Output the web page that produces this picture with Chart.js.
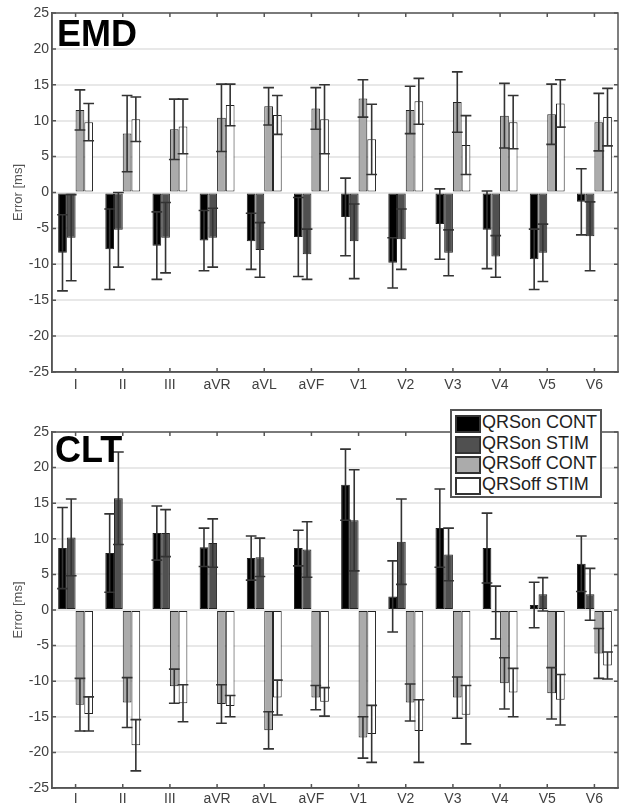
<!DOCTYPE html>
<html>
<head>
<meta charset="utf-8">
<script src="https://cdn.jsdelivr.net/npm/chart.js@4.4.1/dist/chart.umd.min.js"></script>
<style>
  body { margin: 0; background: #fff; }
  #wrap { position: relative; width: 620px; height: 808px; font-family: "Liberation Sans", Arial, sans-serif; }
  canvas { position: absolute; left: 0; }
  .tag { position: absolute; font-weight: bold; font-size: 36px; line-height: 36px; color: #000; }
  #legend { position: absolute; left: 450px; top: 409px; width: 148px; height: 83px;
            border: 2px solid #555; background: #fff; padding-top: 2px; }
  .row { height: 20.7px; position: relative; }
  .sw { position: absolute; left: 3px; top: 2px; width: 22px; height: 14px; border: 2px solid #333; }
  .lt { position: absolute; left: 30px; top: -1px; font-size: 18px; line-height: 20px; color: #222; white-space: nowrap; }
</style>
</head>
<body>
<div id="wrap">
  <canvas id="emdChart" width="620" height="400" style="top:0"></canvas>
  <canvas id="cltChart" width="620" height="408" style="top:400px"></canvas>
  <div class="tag" style="left:57px; top:16px">EMD</div>
  <div class="tag" style="left:55px; top:432px">CLT</div>
  <div id="legend"></div>
</div>
<script>
// ECG leads
const leads = ["I", "II", "III", "aVR", "aVL", "aVF", "V1", "V2", "V3", "V4", "V5", "V6"];
const seriesNames = ["QRSon CONT", "QRSon STIM", "QRSoff CONT", "QRSoff STIM"];
const yTicks = [-25, -20, -15, -10, -5, 0, 5, 10, 15, 20, 25];

// EMD panel: mean error and SD [ms]
const emdOnCont     = [-8.4, -7.9, -7.4, -6.7, -6.8, -6.2, -3.4, -9.8, -4.4, -5.2, -9.3, -1.3];
const emdOnContSd   = [5.3, 5.6, 4.7, 4.2, 3.9, 5.5, 5.4, 3.5, 4.9, 5.4, 4.2, 4.6];
const emdOnStim     = [-6.3, -5.2, -6.3, -6.3, -8.0, -8.6, -6.8, -6.5, -8.4, -8.9, -8.4, -6.1];
const emdOnStimSd   = [6.0, 5.2, 4.9, 4.1, 3.8, 3.5, 5.2, 4.2, 3.2, 2.9, 4.0, 4.8];
const emdOffCont    = [11.5, 8.2, 8.8, 10.4, 12.0, 11.7, 13.1, 11.5, 12.6, 10.7, 10.9, 9.8];
const emdOffContSd  = [2.8, 5.3, 4.2, 4.7, 2.6, 2.9, 2.6, 3.3, 4.2, 4.5, 4.2, 4.0];
const emdOffStim    = [9.8, 10.2, 9.2, 12.2, 10.8, 10.2, 7.4, 12.7, 6.6, 9.8, 12.4, 10.5];
const emdOffStimSd  = [2.6, 3.1, 3.8, 2.9, 2.7, 4.8, 4.9, 3.2, 4.1, 3.7, 3.3, 4.0];

// CLT panel
const cltOnCont     = [8.7, 8.0, 10.8, 8.8, 7.3, 8.7, 17.6, 1.9, 11.5, 8.7, 0.7, 6.5];
const cltOnContSd   = [5.7, 5.5, 3.8, 2.7, 3.1, 2.5, 5.0, 5.0, 5.5, 4.9, 3.2, 3.9];
const cltOnStim     = [10.2, 15.7, 10.8, 9.4, 7.4, 8.5, 12.6, 9.6, 7.8, -0.35, 2.2, 2.2];
const cltOnStimSd   = [5.4, 6.5, 3.3, 3.4, 2.7, 3.9, 7.1, 6.0, 3.7, 3.7, 2.35, 3.65];
const cltOffCont    = [-13.3, -13.0, -10.7, -13.2, -16.9, -12.3, -17.9, -13.0, -12.3, -10.3, -11.7, -6.1];
const cltOffContSd  = [3.7, 3.5, 2.4, 2.7, 2.6, 1.7, 2.9, 2.6, 2.9, 3.6, 3.6, 3.5];
const cltOffStim    = [-14.6, -19.0, -13.1, -13.5, -12.3, -12.9, -17.4, -17.0, -14.7, -11.6, -12.6, -7.8];
const cltOffStimSd  = [2.4, 3.6, 2.6, 1.5, 2.45, 2.0, 4.0, 4.4, 4.1, 3.4, 3.55, 1.9];

const fills = ["#000000", "#505050", "#ababab", "#ffffff"];

// draw mean +/- SD whiskers on top of each bar
const errorBars = {
  id: "errorBars",
  afterDatasetsDraw(chart) {
    const ctx = chart.ctx;
    const y = chart.scales.y;
    ctx.save();
    ctx.strokeStyle = "#333";
    ctx.lineWidth = 1.6;
    chart.data.datasets.forEach((ds, i) => {
      const meta = chart.getDatasetMeta(i);
      meta.data.forEach((bar, j) => {
        const v = ds.data[j], e = ds.sd[j];
        const y1 = y.getPixelForValue(v + e);
        const y2 = y.getPixelForValue(v - e);
        const hw = bar.width / 2 + 1;
        ctx.beginPath();
        ctx.moveTo(bar.x, y1); ctx.lineTo(bar.x, y2);
        ctx.moveTo(bar.x - hw, y1); ctx.lineTo(bar.x + hw, y1);
        ctx.moveTo(bar.x - hw, y2); ctx.lineTo(bar.x + hw, y2);
        ctx.stroke();
      });
    });
    ctx.restore();
  }
};

// box around plot with inward ticks, matlab style
const frame = {
  id: "frame",
  afterDraw(chart) {
    const ctx = chart.ctx;
    const a = chart.chartArea;
    const x = chart.scales.x, y = chart.scales.y;
    ctx.save();
    ctx.strokeStyle = "#555";
    ctx.lineWidth = 1.5;
    ctx.strokeRect(a.left, a.top, a.right - a.left, a.bottom - a.top);
    ctx.beginPath();
    x.ticks.forEach((t, i) => {
      const px = x.getPixelForTick(i);
      ctx.moveTo(px, a.bottom); ctx.lineTo(px, a.bottom - 4);
      ctx.moveTo(px, a.top); ctx.lineTo(px, a.top + 4);
    });
    yTicks.forEach(v => {
      const py = y.getPixelForValue(v);
      ctx.moveTo(a.left, py); ctx.lineTo(a.left + 4, py);
      ctx.moveTo(a.right, py); ctx.lineTo(a.right - 4, py);
    });
    ctx.stroke();
    ctx.restore();
  }
};

function makeChart(id, means, sds, pad, xHeight, labelPad) {
  const datasets = means.map((m, i) => ({
    label: seriesNames[i],
    data: m,
    sd: sds[i],
    backgroundColor: fills[i],
    borderColor: "#222",
    borderWidth: 1,
    borderSkipped: false,
    categoryPercentage: 0.74,
    barPercentage: 1.0
  }));
  return new Chart(document.getElementById(id), {
    type: "bar",
    data: { labels: leads, datasets: datasets },
    options: {
      responsive: false,
      animation: false,
      layout: { padding: pad },
      plugins: { legend: { display: false }, tooltip: { enabled: false } },
      scales: {
        x: {
          grid: { display: false, drawTicks: false },
          border: { color: "#555", width: 1.5 },
          ticks: { color: "#404040", font: { family: "Liberation Sans", size: 14 }, padding: labelPad },
          afterFit: s => { s.height = xHeight; }
        },
        y: {
          min: -25, max: 25,
          grid: { color: "#e8e8e8", lineWidth: 2, drawTicks: false },
          border: { color: "#555", width: 1.5 },
          ticks: { stepSize: 5, color: "#404040", font: { family: "Liberation Sans", size: 14 }, padding: 3 },
          title: { display: true, text: "Error [ms]", color: "#555",
                   font: { family: "Liberation Sans", size: 13 }, padding: { top: 11, bottom: 6 } },
          afterFit: s => { s.width = 52; }
        }
      }
    },
    plugins: [errorBars, frame]
  });
}

makeChart("emdChart",
  [emdOnCont, emdOnStim, emdOffCont, emdOffStim],
  [emdOnContSd, emdOnStimSd, emdOffContSd, emdOffStimSd],
  { top: 13, right: 2, left: 0, bottom: 0 }, 28, 5);

makeChart("cltChart",
  [cltOnCont, cltOnStim, cltOffCont, cltOffStim],
  [cltOnContSd, cltOnStimSd, cltOffContSd, cltOffStimSd],
  { top: 32, right: 2, left: 0, bottom: 0 }, 20, 3);

// legend for the lower panel
const legend = document.getElementById("legend");
seriesNames.forEach((name, i) => {
  const row = document.createElement("div");
  row.className = "row";
  row.innerHTML = `<div class="sw" style="background:${fills[i]}"></div><div class="lt">${name}</div>`;
  legend.appendChild(row);
});
</script>
</body>
</html>
